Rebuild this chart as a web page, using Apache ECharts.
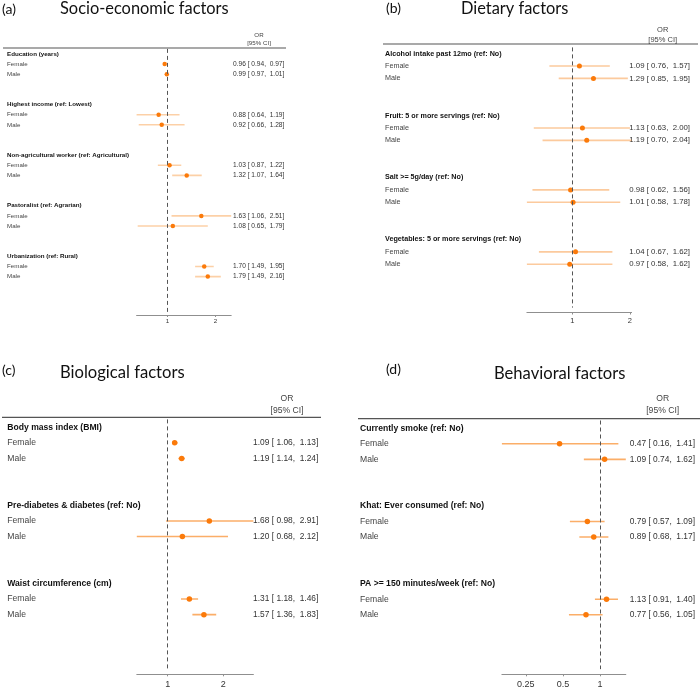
<!DOCTYPE html>
<html><head><meta charset="utf-8">
<script src="https://cdn.jsdelivr.net/npm/echarts@6/dist/echarts.min.js"></script>
<style>html,body{margin:0;padding:0;background:#fff}#c{width:700px;height:690px}</style>
</head><body><div id="c"></div>
<script>
// ---------- DATA ----------
const panelLetters = ['(a)', '(b)', '(c)', '(d)'];
const panelTitles = ['Socio-economic factors', 'Dietary factors', 'Biological factors', 'Behavioral factors'];
const sexLabels = ['Female', 'Male'];

// Each entry: [OR, lower 95% CI, upper 95% CI]
const aGroups = ['Education (years)', 'Highest income (ref: Lowest)', 'Non-agricultural worker (ref: Agricultural)', 'Pastoralist (ref: Agrarian)', 'Urbanization (ref: Rural)'];
const aFemale = [[0.96, 0.94, 0.97], [0.88, 0.64, 1.19], [1.03, 0.87, 1.22], [1.63, 1.06, 2.51], [1.70, 1.49, 1.95]];
const aMale   = [[0.99, 0.97, 1.01], [0.92, 0.66, 1.28], [1.32, 1.07, 1.64], [1.08, 0.65, 1.79], [1.79, 1.49, 2.16]];

const bGroups = ['Alcohol intake past 12mo (ref: No)', 'Fruit: 5 or more servings (ref: No)', 'Salt >= 5g/day (ref: No)', 'Vegetables: 5 or more servings (ref: No)'];
const bFemale = [[1.09, 0.76, 1.57], [1.13, 0.63, 2.00], [0.98, 0.62, 1.56], [1.04, 0.67, 1.62]];
const bMale   = [[1.29, 0.85, 1.95], [1.19, 0.70, 2.04], [1.01, 0.58, 1.78], [0.97, 0.58, 1.62]];

const cGroups = ['Body mass index (BMI)', 'Pre-diabetes & diabetes (ref: No)', 'Waist circumference (cm)'];
const cFemale = [[1.09, 1.06, 1.13], [1.68, 0.98, 2.91], [1.31, 1.18, 1.46]];
const cMale   = [[1.19, 1.14, 1.24], [1.20, 0.68, 2.12], [1.57, 1.36, 1.83]];

const dGroups = ['Currently smoke (ref: No)', 'Khat: Ever consumed (ref: No)', 'PA >= 150 minutes/week (ref: No)'];
const dFemale = [[0.47, 0.16, 1.41], [0.79, 0.57, 1.09], [1.13, 0.91, 1.40]];
const dMale   = [[1.09, 0.74, 1.62], [0.89, 0.68, 1.17], [0.77, 0.56, 1.05]];

const refLine = 1;
const headerTop = 'OR';
const headerBottom = '[95% CI]';

const panels = [
  {groups: aGroups, female: aFemale, male: aMale},
  {groups: bGroups, female: bFemale, male: bMale},
  {groups: cGroups, female: cFemale, male: cMale},
  {groups: dGroups, female: dFemale, male: dMale}
];

// ---------- LAYOUT / STYLE ----------
const layout = [
  {left:136.6, width:94.6, top:48.9, rowH:10.12, rows:26, axisY:315, labX:7, orEnd:284.3,
   fs:6.2, valFs:6.6, tickFs:6.2, tickMargin:3, ruleY:48, ruleX1:3, ruleX2:286, orX:259, orY:35, ciY:43, hdrFs:6.2,
   letterX:2, letterY:9, letterFs:14, titleX:60, titleY:9, titleFs:16.4, dot:4.5, ciW:1.6, ciColor:'rgba(249,150,60,0.45)'},
  {left:526.9, width:104.7, top:47.4, rowH:12.39, rows:21, axisY:312.5, labX:385, orEnd:690,
   fs:7.2, valFs:7.8, tickFs:7.5, tickMargin:4, ruleY:44, ruleX1:383, ruleX2:698, orX:662.7, orY:30, ciY:40, hdrFs:7.5,
   letterX:386, letterY:8, letterFs:14, titleX:461, titleY:9, titleFs:16.4, dot:5, ciW:1.6, ciColor:'rgba(249,150,60,0.5)'},
  {left:136.8, width:116.6, top:419.4, rowH:15.62, rows:16, axisY:674.3, labX:7.3, orEnd:318.3,
   fs:8.6, valFs:8.4, tickFs:9, tickMargin:6, ruleY:417.3, ruleX1:2, ruleX2:321, orX:287, orY:398.3, ciY:410.7, hdrFs:8.6,
   letterX:2, letterY:370, letterFs:14, titleX:60, titleY:373, titleFs:16.6, dot:5.5, ciW:1.6, ciColor:'rgba(249,140,40,0.7)'},
  {left:501.9, width:123.9, top:420.5, rowH:15.54, rows:16, axisY:674.3, labX:360, orEnd:695,
   fs:8.6, valFs:8.4, tickFs:9, tickMargin:6, ruleY:418.7, ruleX1:358, ruleX2:700, orX:662.7, orY:399, ciY:410.7, hdrFs:8.6,
   letterX:386, letterY:369.3, letterFs:14, titleX:494, titleY:373.3, titleFs:16.6, dot:5.5, ciW:1.6, ciColor:'rgba(249,140,40,0.7)'}
];

const labelFont = '"Liberation Sans", Arial, sans-serif';
const titleFont = 'Lato, "Open Sans", sans-serif';
const pointColor = '#fb7a0a';

function fmtOR(v) {
  return v[0].toFixed(2) + ' [ ' + v[1].toFixed(2) + ',  ' + v[2].toFixed(2) + ']';
}

const grid = [], xAxis = [], yAxis = [], series = [], graphic = [];

panels.forEach((p, k) => {
  const L = layout[k];
  const cats = [], rowText = [], orText = [];
  for (let i = 0; i < L.rows; i++) { cats.push(String(i)); rowText.push(''); orText.push(''); }
  const ptData = [];
  const ciSeries = [];
  let lo = Infinity, hi = -Infinity;
  p.groups.forEach((g, gi) => {
    const r = gi * 5;
    rowText[r] = '{h|' + g + '}';
    [p.female[gi], p.male[gi]].forEach((v, si) => {
      const row = r + 1 + si;
      rowText[row] = '{n|' + sexLabels[si] + '}';
      orText[row] = fmtOR(v);
      ciSeries.push([[v[1], row], [v[2], row]]);
      ptData.push([v[0], row]);
      lo = Math.min(lo, v[1]); hi = Math.max(hi, v[2]);
    });
  });
  const gridH = L.rowH * L.rows;
  grid.push({left: L.left, top: L.top, width: L.width, height: gridH, containLabel: false, outerBoundsMode: 'none'});
  xAxis.push({
    gridIndex: k, type: 'log', logBase: 2, min: lo, max: hi,
    position: 'bottom', offset: L.axisY - (L.top + gridH),
    axisLine: {show: true, lineStyle: {color: '#8f8f8f', width: 1}},
    axisTick: {show: true, length: 2, lineStyle: {color: '#8f8f8f'}},
    axisLabel: {showMinLabel: false, showMaxLabel: false, fontSize: L.tickFs, color: '#333', margin: L.tickMargin,
      fontFamily: labelFont, formatter: v => String(+(+v).toFixed(2))},
    splitLine: {show: false}, minorTick: {show: false}
  });
  yAxis.push({
    gridIndex: k, type: 'category', data: cats, inverse: true, position: 'left',
    axisLine: {show: false}, axisTick: {show: false}, splitLine: {show: false},
    axisLabel: {interval: 0, align: 'left', margin: L.left - L.labX,
      formatter: v => rowText[+v],
      rich: {
        h: {fontSize: L.fs, fontWeight: 'bold', color: '#111', fontFamily: labelFont},
        n: {fontSize: L.fs, color: '#444', fontFamily: labelFont}
      }}
  });
  yAxis.push({
    gridIndex: k, type: 'category', data: cats, inverse: true, position: 'right',
    axisLine: {show: false}, axisTick: {show: false}, splitLine: {show: false},
    axisLabel: {interval: 0, align: 'right', margin: L.orEnd - (L.left + L.width),
      formatter: v => orText[+v], fontSize: L.valFs, color: '#333', fontFamily: labelFont}
  });
  ciSeries.forEach(seg => {
    series.push({
      type: 'line', xAxisIndex: k, yAxisIndex: 2 * k, data: seg, z: 2, silent: true,
      symbol: 'none', lineStyle: {color: L.ciColor, width: L.ciW}
    });
  });
  series.push({
    type: 'scatter', xAxisIndex: k, yAxisIndex: 2 * k, data: ptData, z: 3,
    symbol: 'circle', symbolSize: L.dot, itemStyle: {color: pointColor, opacity: 1}, silent: true,
    markLine: {silent: true, symbol: 'none', label: {show: false}, animation: false,
      lineStyle: {type: [4, 3], color: '#555', width: 1}, data: [{xAxis: refLine}]}
  });
  // header rule + column header
  graphic.push({type: 'line', shape: {x1: L.ruleX1, y1: L.ruleY, x2: L.ruleX2, y2: L.ruleY},
    style: {stroke: '#555', lineWidth: 1.2}, silent: true});
  graphic.push({type: 'text', x: L.orX, y: L.orY, silent: true,
    style: {text: headerTop, font: L.hdrFs + 'px ' + labelFont, fill: '#444', align: 'center', verticalAlign: 'middle'}});
  graphic.push({type: 'text', x: L.orX, y: L.ciY, silent: true,
    style: {text: headerBottom, font: L.hdrFs + 'px ' + labelFont, fill: '#444', align: 'center', verticalAlign: 'middle'}});
  graphic.push({type: 'text', x: L.letterX, y: L.letterY, silent: true,
    style: {text: panelLetters[k], font: L.letterFs + 'px ' + titleFont, fill: '#111', align: 'left', verticalAlign: 'middle'}});
  graphic.push({type: 'text', x: L.titleX, y: L.titleY, silent: true,
    style: {text: panelTitles[k], font: L.titleFs + 'px ' + titleFont, fill: '#111', align: 'left', verticalAlign: 'middle'}});
});

const chart = echarts.init(document.getElementById('c'), null, {renderer: 'canvas'});
chart.setOption({
  backgroundColor: '#fff', animation: false,
  grid, xAxis, yAxis, series, graphic
});
</script></body></html>
